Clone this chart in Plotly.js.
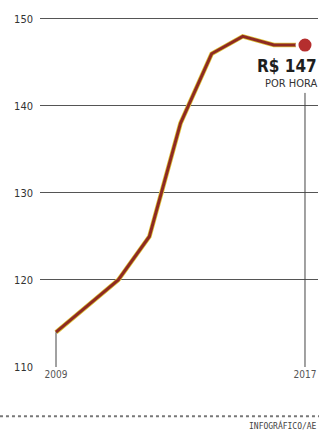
<!DOCTYPE html>
<html>
<head>
<meta charset="utf-8">
<script src="https://cdn.plot.ly/plotly-3.0.1.min.js"></script>
<style>
html,body{margin:0;padding:0;background:#fff;}
#chart{width:319px;height:433px;}
</style>
</head>
<body>
<div id="chart"></div>
<script>
// Data
const years = [2009, 2010, 2011, 2012, 2013, 2014, 2015, 2016, 2017];
const values = [114, 117, 120, 125, 138, 146, 148, 147, 147];
const yTicks = [110, 120, 130, 140, 150];
const xTicks = [2009, 2017];
const valueLabel = "R$ " + values[values.length - 1];
const unitLabel = "POR HORA";
const sourceLabel = "INFOGRÁFICO/AE";

const lastX = years[years.length - 1];
const lastY = values[values.length - 1];
const font = "'Liberation Sans Narrow', 'DejaVu Sans Condensed', 'Liberation Sans', sans-serif";

const traces = [
  { x: years, y: values, mode: 'lines', line: {color: '#dcc238', width: 4.6}, hoverinfo: 'skip', showlegend: false },
  { x: years, y: values, mode: 'lines', line: {color: '#8f2a22', width: 3}, hoverinfo: 'skip', showlegend: false },
  { x: [lastX], y: [lastY], mode: 'markers', marker: {color: '#b52e2e', size: 16, line: {color: '#ffffff', width: 3}}, hoverinfo: 'skip', showlegend: false },
  { x: [years[0], years[0]], y: [yTicks[0], values[0]], mode: 'lines', line: {color: '#444', width: 1}, hoverinfo: 'skip', showlegend: false }
];

const layout = {
  width: 319, height: 433,
  margin: {l: 40, r: 1, t: 10, b: 66},
  paper_bgcolor: '#ffffff', plot_bgcolor: '#ffffff',
  showlegend: false,
  xaxis: {
    range: [2008.486, 2017.418],
    tickvals: xTicks, ticktext: xTicks.map(String),
    showgrid: false, zeroline: false, showline: false, ticks: '',
    tickfont: {family: font, size: 10, color: '#555'},
    fixedrange: true
  },
  yaxis: {
    range: [110, 151.03],
    tickvals: yTicks,
    showgrid: true, gridcolor: '#555', gridwidth: 1,
    zeroline: false, showline: false, ticks: '',
    ticklabelstandoff: 6,
    tickfont: {family: font, size: 11, color: '#333'},
    fixedrange: true
  },
  shapes: [
    { type: 'line', xref: 'x', yref: 'y', x0: lastX, x1: lastX, y0: yTicks[0], y1: 141.5, line: {color: '#444', width: 1} },
    { type: 'line', xref: 'paper', yref: 'paper', x0: -0.144, x1: 1.004, y0: -0.138, y1: -0.138, line: {color: '#777', width: 2, dash: 'dot'} }
  ],
  annotations: [
    { x: lastX, y: lastY, xref: 'x', yref: 'y', text: '<b>' + valueLabel + '</b>', showarrow: false,
      xanchor: 'right', yanchor: 'middle', xshift: 14, yshift: -21,
      font: {family: font, size: 17, color: '#1e1e1e'} },
    { x: lastX, y: lastY, xref: 'x', yref: 'y', text: unitLabel, showarrow: false,
      xanchor: 'right', yanchor: 'middle', xshift: 14, yshift: -38,
      font: {family: font, size: 11, color: '#333'} },
    { x: 1.004, y: -0.1625, xref: 'paper', yref: 'paper', text: sourceLabel, showarrow: false,
      xanchor: 'right', yanchor: 'middle',
      font: {family: "'DejaVu Sans Mono', monospace", size: 8, color: '#444'} }
  ]
};

Plotly.newPlot('chart', traces, layout, {displayModeBar: false, staticPlot: true});
</script>
</body>
</html>
